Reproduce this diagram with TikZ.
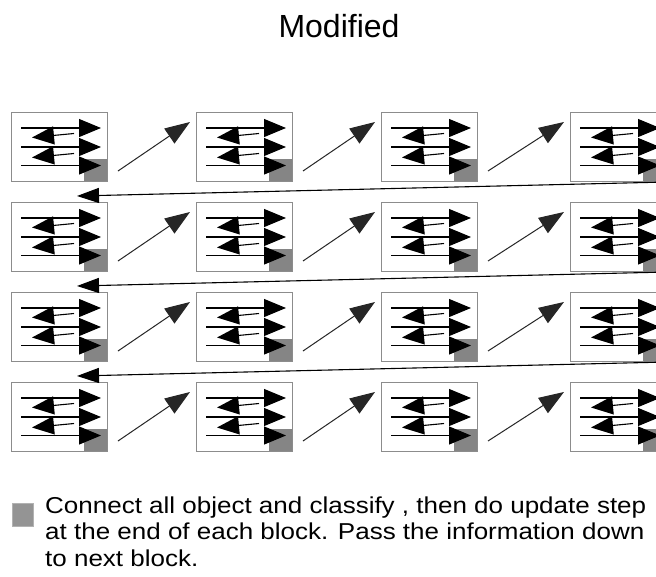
\documentclass[tikz,border=0pt]{standalone}
\usepackage{fontspec}
\setmainfont{Liberation Sans}
\usetikzlibrary{arrows.meta}
\begin{document}
\begin{tikzpicture}[x=1pt,y=-1pt,
  block/.style={draw=black!45, line width=1pt, fill=white,
    minimum width=96pt, minimum height=69pt, inner sep=0pt, anchor=north west},
  upd/.style={fill=black!48},
  flow/.style={line width=1.1pt, -{Triangle[length=22pt,width=18pt]}},
  link/.style={line width=1pt, draw=black!85, -{Triangle[length=25pt,width=18pt]}},
  back/.style={line width=1.1pt, -{Triangle[length=22pt,width=15pt]}},
  title/.style={font=\fontsize{32}{38}\selectfont, inner sep=0pt, anchor=base},
  keybox/.style={fill=black!42, draw=black!30, line width=0.6pt,
    minimum width=21pt, minimum height=23pt, inner sep=0pt},
  note/.style={font=\fontsize{23}{26.5}\selectfont, align=left,
    inner sep=0pt, anchor=base west}
]
\clip (0,0) rectangle (656,576);
\fill[white] (0,0) rectangle (656,576);

\node[title] (title) at (339,37) {Modified};

% grid of blocks, each with its message arrows and update corner
\foreach \r/\yy in {1/112,2/202,3/292,4/382}{
  \foreach \c/\xx in {1/11,2/196,3/381,4/570}{
    \node[block] (b\r\c) at (\xx,\yy) {};
    \begin{scope}[shift={(b\r\c.north west)}]
      \fill[upd] (73,47) rectangle (96,69);
      \draw[flow] (10,16) -- (90,16);
      \draw[flow] (10,35) -- (90,35);
      \draw[flow] (10,53.5) -- (90,53.5);
      \draw[flow] (63,21.5) -- (21,25.5);
      \draw[flow] (63,41.5) -- (21,45.5);
    \end{scope}
  }
}

% links between neighbouring blocks in a row
\foreach \r in {1,2,3,4}{
  \foreach \c/\n in {1/2,2/3,3/4}{
    \draw[link] ([shift={(10,-11)}]b\r\c.south east) -- ([shift={(-6,10)}]b\r\n.north west);
  }
}

% information passed down to the next row
\foreach \r/\n in {1/2,2/3,3/4}{
  \draw[back] (b\r4.south east) -- ([shift={(66,-6)}]b\n1.north west);
}

% legend
\node[keybox] (key) at (22.5,514.5) {};
\node[note] (keytext) at (45,566) {%
  \scalebox{1.13}[1]{Connect all object and classify , then do update step}\\
  \scalebox{1.13}[1]{at the end of each block. Pass the information down}\\
  \scalebox{1.13}[1]{to next block.}};
\end{tikzpicture}
\end{document}
